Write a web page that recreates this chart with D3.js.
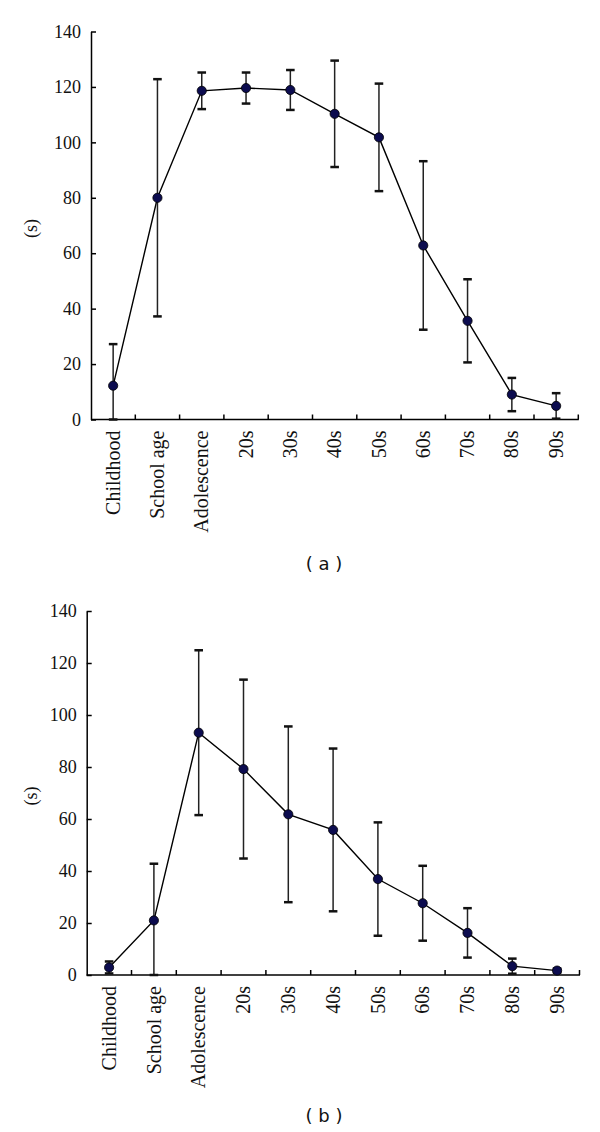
<!DOCTYPE html>
<html><head><meta charset="utf-8">
<script src="https://cdn.jsdelivr.net/npm/d3@7"></script>
<style>html,body{margin:0;padding:0;background:#fff;}svg{display:block;}</style>
</head><body>
<svg id="chart" width="600" height="1132"></svg>
<script>
const categories = ["Childhood","School age","Adolescence","20s","30s","40s","50s","60s","70s","80s","90s"];
const yTicks = [0,20,40,60,80,100,120,140];
const meanA = [12.2, 80.0, 118.6, 119.6, 118.9, 110.3, 101.8, 62.8, 35.6, 9.0, 4.9];
const sdA   = [15.0, 42.8, 6.6, 5.6, 7.2, 19.2, 19.4, 30.4, 15.0, 6.0, 4.6];
const meanB = [2.9, 21.0, 93.2, 79.2, 61.8, 55.8, 36.9, 27.6, 16.2, 3.4, 1.7];
const sdB   = [2.3, 21.8, 31.7, 34.4, 33.8, 31.3, 21.8, 14.4, 9.5, 2.9, 0.8];
const yLabel = "(s)";
const captions = ["( a )", "( b )"];

const panels = [
  {mean: meanA, sd: sdA, caption: captions[0], x0: 91, x1: 578.3, yTop: 31.5, yBot: 419.5, capY: 564},
  {mean: meanB, sd: sdB, caption: captions[1], x0: 86.7, x1: 579.5, yTop: 611, yBot: 975, capY: 1116}
];

const svg = d3.select("#chart");
const serif = "'Liberation Serif', serif";

panels.forEach(p => {
  const x = d3.scaleBand().domain(categories).range([p.x0, p.x1]).padding(0);
  const y = d3.scaleLinear().domain([0, 140]).range([p.yBot, p.yTop]);
  const g = svg.append("g");

  // y axis
  const ya = g.append("g").attr("transform", `translate(${p.x0},0)`)
    .call(d3.axisLeft(y).tickValues(yTicks).tickSizeInner(-5).tickSizeOuter(0).tickPadding(10));
  ya.select(".domain").attr("stroke", "#000").attr("stroke-width", 1.5);
  ya.selectAll(".tick line").attr("stroke", "#000").attr("stroke-width", 1.5);
  ya.selectAll(".tick text").attr("font-family", serif).attr("font-size", 18).attr("fill", "#111");

  // x axis line with inward ticks at band boundaries
  g.append("line").attr("x1", p.x0).attr("x2", p.x1 + 0.5).attr("y1", y(0)).attr("y2", y(0))
    .attr("stroke", "#000").attr("stroke-width", 1.5);
  const bounds = categories.map(c => x(c) + x.bandwidth());
  g.selectAll(".xt").data(bounds).enter().append("line")
    .attr("x1", d => d).attr("x2", d => d).attr("y1", y(0)).attr("y2", y(0) - 5)
    .attr("stroke", "#000").attr("stroke-width", 1.5);

  // category labels
  g.selectAll(".xl").data(categories).enter().append("text")
    .attr("transform", d => `translate(${x(d) + x.bandwidth()/2},${y(0) + 11}) rotate(-90)`)
    .attr("text-anchor", "end").attr("dy", "0.33em")
    .attr("font-family", serif).attr("font-size", 20).attr("fill", "#111")
    .text(d => d);

  // y label
  g.append("text")
    .attr("transform", `translate(31,${(p.yTop + p.yBot)/2 + 3}) rotate(-90)`)
    .attr("text-anchor", "middle").attr("dy", "0.33em")
    .attr("font-family", serif).attr("font-size", 18).attr("fill", "#111")
    .text(yLabel);

  const data = categories.map((c, i) => ({c, m: p.mean[i], s: p.sd[i]}));
  const cx = d => x(d.c) + x.bandwidth()/2;

  // line
  g.append("path").datum(data)
    .attr("d", d3.line().x(cx).y(d => y(d.m)))
    .attr("fill", "none").attr("stroke", "#000").attr("stroke-width", 1.4);

  // error bars
  const eb = g.selectAll(".eb").data(data).enter().append("g");
  eb.append("line").attr("x1", cx).attr("x2", cx)
    .attr("y1", d => y(d.m + d.s)).attr("y2", d => y(Math.max(0, d.m - d.s)))
    .attr("stroke", "#222").attr("stroke-width", 1.5);
  eb.append("line").attr("x1", d => cx(d) - 4.3).attr("x2", d => cx(d) + 4.3)
    .attr("y1", d => y(d.m + d.s)).attr("y2", d => y(d.m + d.s))
    .attr("stroke", "#111").attr("stroke-width", 2.5);
  eb.append("line").attr("x1", d => cx(d) - 4.3).attr("x2", d => cx(d) + 4.3)
    .attr("y1", d => y(Math.max(0, d.m - d.s))).attr("y2", d => y(Math.max(0, d.m - d.s)))
    .attr("stroke", "#111").attr("stroke-width", 2.5);

  // points
  g.selectAll(".pt").data(data).enter().append("circle")
    .attr("cx", cx).attr("cy", d => y(d.m)).attr("r", 4.6)
    .attr("fill", "#0c0c4f").attr("stroke", "#000").attr("stroke-width", 0.8);

  // caption
  svg.append("text").attr("x", 324).attr("y", p.capY).attr("text-anchor", "middle")
    .attr("dy", "0.35em").attr("font-family", "'DejaVu Sans', sans-serif").attr("font-size", 18)
    .attr("fill", "#111").text(p.caption);
});
</script>
</body></html>
